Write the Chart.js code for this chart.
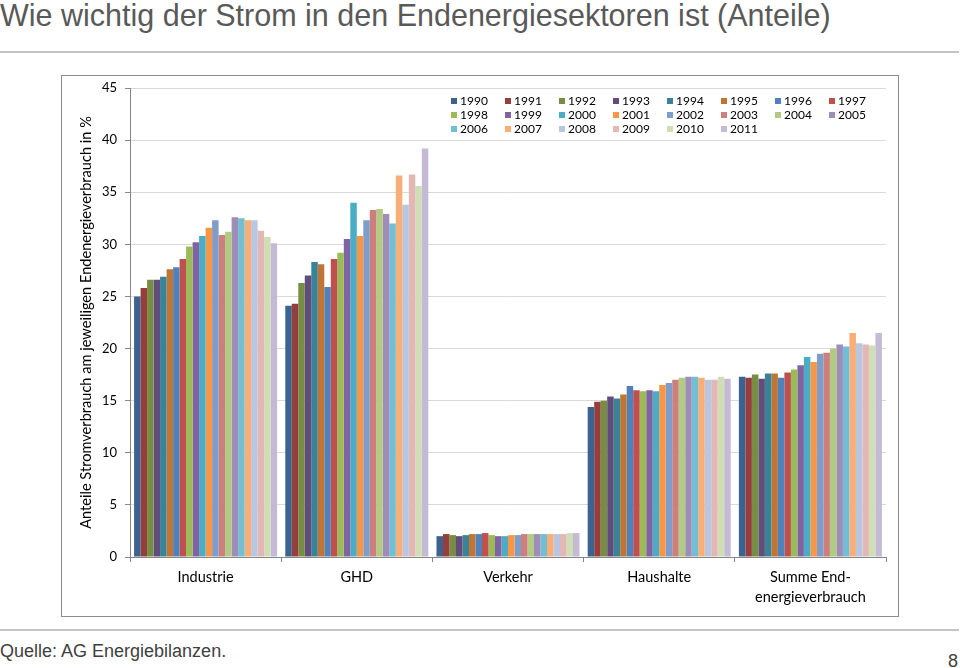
<!DOCTYPE html>
<html><head><meta charset="utf-8">
<script src="https://cdn.jsdelivr.net/npm/chart.js@4"></script>
<style>
body{margin:0;width:960px;height:668px;background:#fff;position:relative;overflow:hidden;font-family:"Liberation Sans",Arial,sans-serif;}
#title{position:absolute;left:0;top:0px;font-size:30.5px;line-height:30px;color:#595959;white-space:nowrap;}
.rule{position:absolute;left:0;width:959px;height:2px;background:#C4C4C4;}
#box{position:absolute;left:61px;top:75px;width:836px;height:540px;border:1px solid #8C8C8C;}
#src{position:absolute;left:0;top:641px;font-size:18px;line-height:20px;color:#404040;white-space:nowrap;}
#page{position:absolute;right:2px;top:651px;font-size:18px;line-height:20px;color:#404040;}
</style>
</head><body>
<div id="title">Wie wichtig der Strom in den Endenergiesektoren ist (Anteile)</div>
<div class="rule" style="top:51px"></div>
<div id="box"><canvas id="c" width="836" height="540"></canvas></div>
<div class="rule" style="top:629px"></div>
<div id="src">Quelle: AG Energiebilanzen.</div>
<div id="page">8</div>
<script>
const categories = ["Industrie", "GHD", "Verkehr", "Haushalte", ["Summe End-", "energieverbrauch"]];
const years = ["1990","1991","1992","1993","1994","1995","1996","1997","1998","1999","2000","2001","2002","2003","2004","2005","2006","2007","2008","2009","2010","2011"];
const industrie = [25.0, 25.8, 26.6, 26.6, 26.9, 27.6, 27.8, 28.6, 29.8, 30.2, 30.8, 31.6, 32.3, 30.9, 31.2, 32.6, 32.5, 32.3, 32.3, 31.3, 30.7, 30.1];
const ghd = [24.1, 24.3, 26.3, 27.0, 28.3, 28.1, 25.9, 28.6, 29.2, 30.5, 34.0, 30.8, 32.3, 33.3, 33.4, 32.9, 32.0, 36.6, 33.8, 36.7, 35.6, 39.2];
const verkehr = [2.0, 2.2, 2.1, 2.0, 2.1, 2.2, 2.2, 2.3, 2.1, 2.0, 2.0, 2.1, 2.1, 2.2, 2.2, 2.2, 2.2, 2.2, 2.2, 2.2, 2.3, 2.3];
const haushalte = [14.4, 14.9, 15.0, 15.4, 15.2, 15.6, 16.4, 16.0, 15.9, 16.0, 15.9, 16.5, 16.7, 17.0, 17.2, 17.3, 17.3, 17.2, 17.0, 17.0, 17.3, 17.1];
const summe = [17.3, 17.2, 17.5, 17.1, 17.6, 17.6, 17.2, 17.7, 18.0, 18.4, 19.2, 18.7, 19.5, 19.6, 20.0, 20.4, 20.2, 21.5, 20.5, 20.4, 20.3, 21.5];
const yTicks = [0, 5, 10, 15, 20, 25, 30, 35, 40, 45];
const colors = ["#3C6290","#963E3C","#768E44","#614C7B","#398396","#C07535",
                "#4F81BD","#C0504D","#9BBB59","#8064A2","#4BACC6","#F79646",
                "#7E9DCA","#CD7F7D","#B2CB82","#9E8CB9","#72BED4","#F9AD77",
                "#B7C7E2","#E2B7B6","#D0DEB6","#C4BAD6"];

const sectors = [industrie, ghd, verkehr, haushalte, summe];
const datasets = years.map((y, i) => ({
  label: y,
  data: sectors.map(s => s[i]),
  backgroundColor: colors[i],
  borderWidth: 0,
  categoryPercentage: 0.946,
  barPercentage: 1.0
}));

const gridLegend = {
  id: 'gridLegend',
  afterDraw(chart) {
    const ctx = chart.ctx, ca = chart.chartArea;
    ctx.save();
    ctx.font = '12px Lato';
    ctx.textBaseline = 'middle';
    ctx.textAlign = 'left';
    chart.data.datasets.forEach((ds, i) => {
      const col = i % 8, row = Math.floor(i / 8);
      const x = ca.left + 321 + col * 54;
      const y = ca.top + 13 + row * 14;
      ctx.fillStyle = ds.backgroundColor;
      ctx.fillRect(x, y - 3, 6, 6);
      ctx.fillStyle = '#000';
      ctx.fillText(ds.label, x + 9, y + 0.5);
    });
    ctx.restore();
  }
};

new Chart(document.getElementById('c'), {
  type: 'bar',
  data: { labels: categories, datasets },
  plugins: [gridLegend],
  options: {
    responsive: false,
    animation: false,
    layout: { padding: { top: 12, right: 12, left: 0, bottom: 0 } },
    plugins: { legend: { display: false }, tooltip: { enabled: false } },
    scales: {
      x: {
        grid: { offset: true, drawOnChartArea: false, drawTicks: true, tickLength: 5, tickColor: '#868686' },
        border: { color: '#868686' },
        ticks: { color: '#000', font: { family: 'Lato', size: 14.5, lineHeight: 1.4 }, padding: 5, maxRotation: 0, autoSkip: false },
        afterFit(s) { s.height = 59; s.paddingLeft = 0; s.paddingRight = 0; }
      },
      y: {
        min: 0, max: 45,
        afterBuildTicks(s) { s.ticks = yTicks.map(v => ({ value: v })); },
        grid: { color: '#D9D9D9', tickColor: '#868686', tickLength: 5 },
        border: { color: '#868686' },
        ticks: { color: '#000', font: { family: 'Lato', size: 13 }, padding: 8 },
        title: { display: true, text: 'Anteile Stromverbrauch am jeweiligen Endenergieverbrauch in %', color: '#000', font: { family: 'Lato', size: 14.6 }, padding: { top: 16, bottom: 0 } },
        afterFit(s) { s.width = 68; s.paddingTop = 0; s.paddingBottom = 0; }
      }
    }
  }
});
</script>
</body></html>
